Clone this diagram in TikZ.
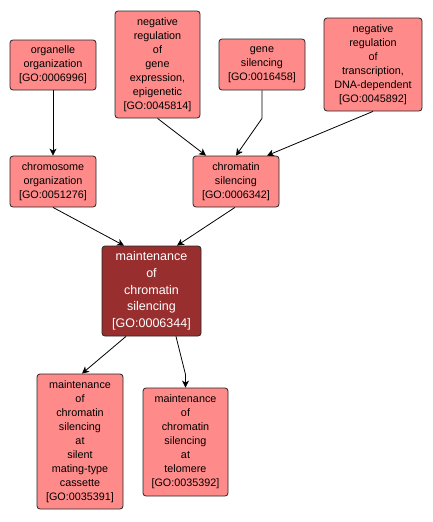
\documentclass[tikz,border=0pt]{standalone}
\usepackage{fontspec}
\setmainfont{Liberation Sans}
\usetikzlibrary{arrows.meta}
\definecolor{lightnode}{HTML}{FF8A8A}
\definecolor{darknode}{HTML}{992E2E}
\begin{document}
\begin{tikzpicture}[x=1pt,y=-1pt,
  goterm/.style={draw=black!85, line width=0.8pt, rounded corners=3pt, fill=lightnode,
    align=center, inner sep=0pt, font=\fontsize{10.8}{14}\selectfont},
  focus/.style={goterm, fill=darknode, text=white, font=\fontsize{12.5}{16.7}\selectfont},
  edge/.style={draw=black, line width=0.8pt, -{Stealth[length=7pt,width=7pt,inset=2pt]}}]
\useasboundingbox[fill=white] (0,0) rectangle (432,522);
\node[goterm, minimum width=86pt, minimum height=50pt] (org) at (53,65) {organelle\\organization\\{[GO:0006996]}};
\node[goterm, minimum width=85pt, minimum height=107pt] (epi) at (157.5,64.5) {negative\\regulation\\of\\gene\\expression,\\epigenetic\\{[GO:0045814]}};
\node[goterm, minimum width=86pt, minimum height=51pt] (gsil) at (262,64.5) {gene\\silencing\\{[GO:0016458]}};
\node[goterm, minimum width=98pt, minimum height=93pt] (trans) at (373,64.5) {negative\\regulation\\of\\transcription,\\DNA-dependent\\{[GO:0045892]}};
\node[goterm, minimum width=86pt, minimum height=51pt] (chromo) at (53,181.5) {chromosome\\organization\\{[GO:0051276]}};
\node[goterm, minimum width=86pt, minimum height=51pt] (csil) at (236,181.5) {chromatin\\silencing\\{[GO:0006342]}};
\node[focus, minimum width=99pt, minimum height=90pt] (main) at (151.5,291) {maintenance\\of\\chromatin\\silencing\\{[GO:0006344]}};
\node[goterm, minimum width=86pt, minimum height=135pt] (mat) at (80,441.5) {maintenance\\of\\chromatin\\silencing\\at\\silent\\mating-type\\cassette\\{[GO:0035391]}};
\node[goterm, minimum width=85pt, minimum height=108pt] (tel) at (185.5,442) {maintenance\\of\\chromatin\\silencing\\at\\telomere\\{[GO:0035392]}};
\draw[edge] (org.south) -- (chromo.north);
\draw[edge] (epi.south) -- ([xshift=-30pt]csil.north);
\draw[edge] (gsil.south) -- ([yshift=-28pt]gsil.south) -- (csil.north);
\draw[edge] (trans.south) -- ([xshift=31pt]csil.north);
\draw[edge] (chromo.south) -- ([xshift=-27.5pt]main.north);
\draw[edge] ([xshift=-1pt]csil.south) -- ([xshift=25.5pt]main.north);
\draw[edge] ([xshift=-25.5pt]main.south) -- ([xshift=2pt]mat.north);
\draw[edge] ([xshift=24.5pt]main.south) -- ([yshift=13pt]tel.north) -- (tel.north);
\end{tikzpicture}
\end{document}
